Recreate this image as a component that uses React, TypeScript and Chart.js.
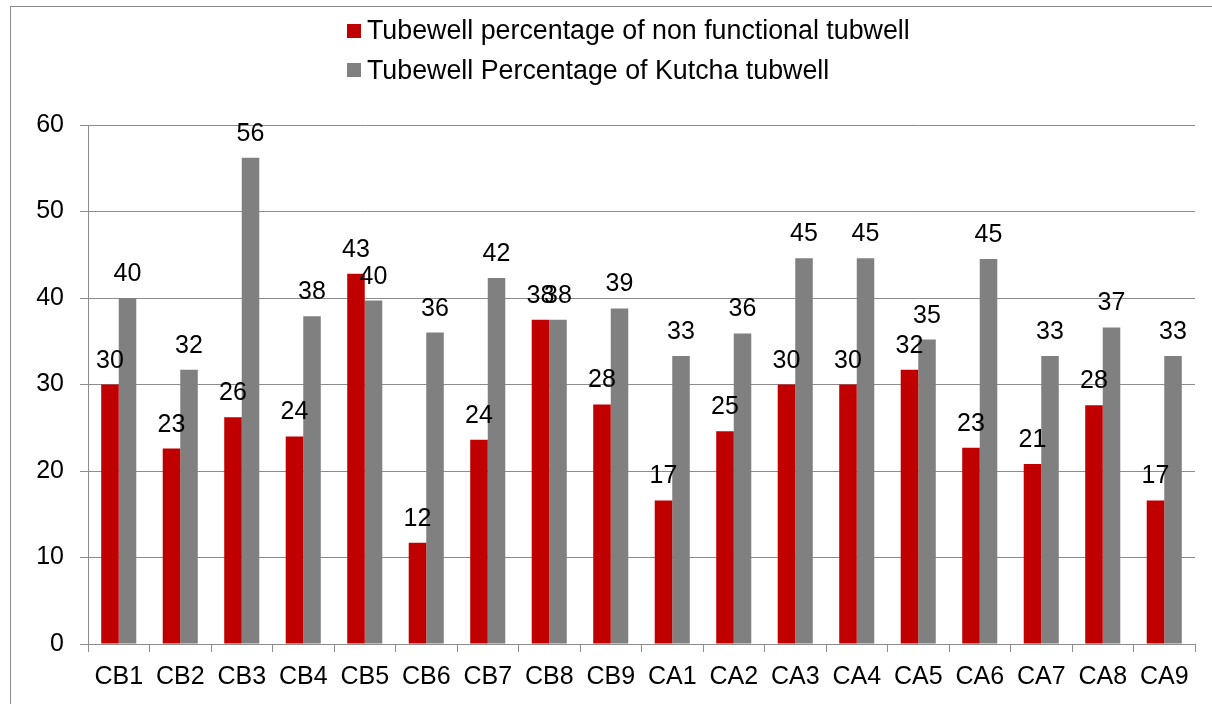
import React, { useEffect, useRef } from "react";
import { Chart, registerables } from "chart.js";

Chart.register(...registerables);

const categories = ["CB1", "CB2", "CB3", "CB4", "CB5", "CB6", "CB7", "CB8", "CB9", "CA1", "CA2", "CA3", "CA4", "CA5", "CA6", "CA7", "CA8", "CA9"];
const nonFunctional = [30.0, 22.6, 26.2, 24.0, 42.8, 11.7, 23.6, 37.5, 27.7, 16.6, 24.6, 30.0, 30.0, 31.7, 22.7, 20.8, 27.6, 16.6];
const kutcha = [40.0, 31.7, 56.2, 37.9, 39.7, 36.0, 42.3, 37.5, 38.8, 33.3, 35.9, 44.6, 44.6, 35.2, 44.5, 33.3, 36.6, 33.3];
const seriesNames = ["Tubewell percentage of non functional tubwell", "Tubewell Percentage of Kutcha tubwell"];
const seriesColors = ["#C00000", "#808080"];
const yMin = 0;
const yMax = 60;
const yStep = 10;

const FONT = '"Liberation Sans", Arial, sans-serif';
const TICK_SIZE = 25;
const LEGEND_SIZE = 26.8;
const GRID = "#8c8c8c";

const valueLabels = {
  id: "valueLabels",
  afterDatasetsDraw(chart: any) {
    const ctx = chart.ctx;
    ctx.save();
    ctx.font = `${TICK_SIZE}px ${FONT}`;
    ctx.fillStyle = "#000";
    ctx.textAlign = "center";
    ctx.textBaseline = "alphabetic";
    chart.data.datasets.forEach((ds: any, i: number) => {
      const meta = chart.getDatasetMeta(i);
      meta.data.forEach((bar: any, j: number) => {
        const v = ds.data[j];
        ctx.fillText(String(Math.round(v)), bar.x, bar.y - 17);
      });
    });
    ctx.restore();
  },
};

export default function App() {
  const ref = useRef<HTMLCanvasElement | null>(null);
  useEffect(() => {
    if (!ref.current) return;
    const chart = new Chart(ref.current, {
      type: "bar",
      data: {
        labels: categories,
        datasets: [
          { label: seriesNames[0], data: nonFunctional, backgroundColor: seriesColors[0], borderWidth: 0 },
          { label: seriesNames[1], data: kutcha, backgroundColor: seriesColors[1], borderWidth: 0 },
        ],
      },
      options: {
        responsive: false,
        animation: false,
        devicePixelRatio: 1,
        layout: { padding: { left: 0, right: 17, top: 125, bottom: 0 } },
        datasets: { bar: { categoryPercentage: 0.57, barPercentage: 1.0 } },
        plugins: { legend: { display: false }, tooltip: { enabled: false }, title: { display: false } },
        scales: {
          x: {
            grid: { drawOnChartArea: false, drawTicks: true, tickLength: 8, color: GRID, offset: true },
            border: { display: true, color: GRID, width: 1 },
            ticks: { color: "#000", font: { family: FONT, size: TICK_SIZE }, padding: 10, maxRotation: 0, autoSkip: false },
            afterFit: (s: any) => { s.height = 60; },
          },
          y: {
            min: yMin,
            max: yMax,
            grid: { color: GRID, tickLength: 8, drawTicks: true },
            border: { display: true, color: GRID, width: 1 },
            ticks: { stepSize: yStep, color: "#000", font: { family: FONT, size: TICK_SIZE }, padding: 16 },
            afterFit: (s: any) => { s.width = 88; },
          },
        },
      },
      plugins: [valueLabels],
    });
    return () => chart.destroy();
  }, []);

  return (
    <div style={{ position: "fixed", left: 0, top: 0, width: 1212, height: 704, overflow: "hidden", background: "#fff" }}>
      <div style={{ position: "absolute", left: 10, top: 6, width: 1230, height: 740, border: "1.5px solid #8a8a8a", boxSizing: "border-box" }} />
      <canvas ref={ref} width={1212} height={704} style={{ position: "absolute", left: 0, top: 0, width: 1212, height: 704 }} />
      {seriesNames.map((name, i) => (
        <React.Fragment key={name}>
          <div style={{ position: "absolute", left: 347, top: 24 + i * 39, width: 14, height: 14, background: seriesColors[i] }} />
          <div style={{ position: "absolute", left: 367, top: 15 + i * 40, fontFamily: FONT, fontSize: LEGEND_SIZE, lineHeight: "30px", color: "#000", whiteSpace: "nowrap" }}>{name}</div>
        </React.Fragment>
      ))}
    </div>
  );
}
